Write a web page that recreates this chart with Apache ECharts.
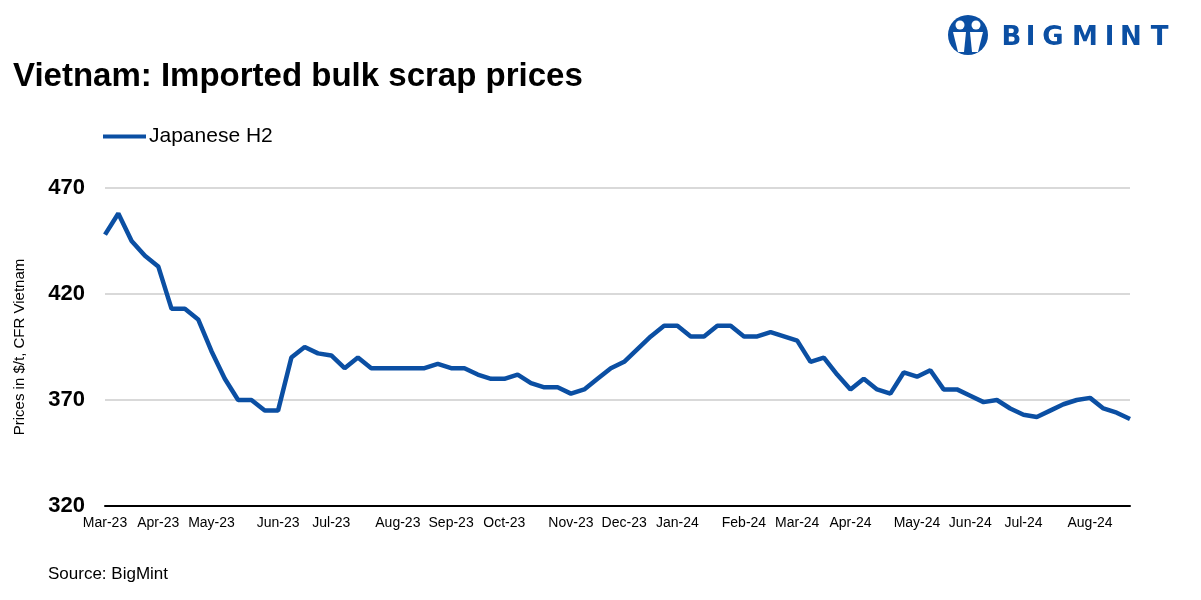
<!DOCTYPE html>
<html>
<head>
<meta charset="utf-8">
<script src="https://cdn.jsdelivr.net/npm/echarts@6/dist/echarts.min.js"></script>
<style>html,body{margin:0;padding:0;background:#fff}#c{width:1201px;height:600px}</style>
</head>
<body>
<div id="c"></div>
<script>
const categories = [
 'Mar-23','','','','Apr-23','','','','May-23','','','','','Jun-23','','','','Jul-23','','','','','Aug-23','','','','Sep-23','','','','Oct-23','','','','','Nov-23','','','','Dec-23','','','','Jan-24','','','','','Feb-24','','','','Mar-24','','','','Apr-24','','','','','May-24','','','','Jun-24','','','','Jul-24','','','','','Aug-24','','',''
];
const seriesName = 'Japanese H2';
const japaneseH2 = [
 448,458,445,438,433,413,413,408,393,380,370,370,365,365,390,395,392,391,385,390,
 385,385,385,385,385,387,385,385,382,380,380,382,378,376,376,373,375,380,385,388,
 394,400,405,405,400,400,405,405,400,400,402,400,398,388,390,382,375,380,375,373,
 383,381,384,375,375,372,369,370,366,363,362,365,368,370,371,366,364,361
];
const yTicks = {min: 320, max: 470, interval: 50};
const logoLetters = ['B','I','G','M','I','N','T'];

const chart = echarts.init(document.getElementById('c'), null, {renderer: 'canvas'});
const blue = '#0b4fa3';
const logoX = [1011.5, 1030.5, 1053, 1085, 1109.5, 1131, 1159.5];
const logoGraphics = logoLetters.map((ch, i) => ({
  type: 'text', x: logoX[i], y: 38,
  style: {text: ch, fontFamily: 'DejaVu Sans', fontWeight: 'bold', fontSize: 26, fill: blue, align: 'center', verticalAlign: 'middle'}
}));
chart.setOption({
  animation: false,
  backgroundColor: '#fff',
  title: {
    text: 'Vietnam: Imported bulk scrap prices',
    left: 8, top: 55,
    textStyle: {fontFamily: 'Liberation Sans', fontWeight: 'bold', fontSize: 33, color: '#000'}
  },
  legend: {
    left: 98, top: 121,
    itemWidth: 43, itemHeight: 4,
    icon: 'rect',
    itemGap: 5,
    textStyle: {fontFamily: 'Liberation Sans', fontSize: 21, color: '#000', padding: [0,0,0,-2]},
    data: [seriesName]
  },
  grid: {left: 105, right: 71, top: 188, bottom: 94, containLabel: false, outerBoundsMode: 'none'},
  xAxis: {
    type: 'category',
    data: categories,
    boundaryGap: false,
    axisLine: {lineStyle: {color: '#000', width: 2}},
    axisTick: {show: false},
    axisLabel: {interval: 0, margin: 10, fontFamily: 'Liberation Sans', fontSize: 14, color: '#000'}
  },
  yAxis: {
    type: 'value',
    min: yTicks.min, max: yTicks.max, interval: yTicks.interval,
    name: 'Prices in $/t, CFR Vietnam',
    nameLocation: 'middle',
    nameGap: 78,
    nameTextStyle: {fontFamily: 'Liberation Sans', fontSize: 15, color: '#000'},
    axisLine: {show: false},
    axisTick: {show: false},
    axisLabel: {margin: 20, fontFamily: 'Liberation Sans', fontWeight: 'bold', fontSize: 22, color: '#000'},
    splitLine: {lineStyle: {color: '#d9d9d9', width: 2}}
  },
  series: [{
    name: seriesName,
    type: 'line',
    data: japaneseH2,
    showSymbol: false,
    symbol: 'none',
    lineStyle: {color: blue, width: 4.5},
    itemStyle: {color: blue}
  }],
  graphic: [
    {type: 'text', left: 48, top: 566, style: {text: 'Source: BigMint', fontFamily: 'Liberation Sans', fontSize: 17, fill: '#000'}},
    {type: 'circle', shape: {cx: 968, cy: 35, r: 20}, style: {fill: blue}},
    {type: 'circle', shape: {cx: 960, cy: 25, r: 4.5}, style: {fill: '#fff'}},
    {type: 'circle', shape: {cx: 976, cy: 25, r: 4.5}, style: {fill: '#fff'}},
    {type: 'polygon', shape: {points: [[953,32],[966,32],[964,52],[958,52]]}, style: {fill: '#fff'}},
    {type: 'polygon', shape: {points: [[970,32],[983,32],[978,52],[972,52]]}, style: {fill: '#fff'}}
  ].concat(logoGraphics)
});
</script>
</body>
</html>
